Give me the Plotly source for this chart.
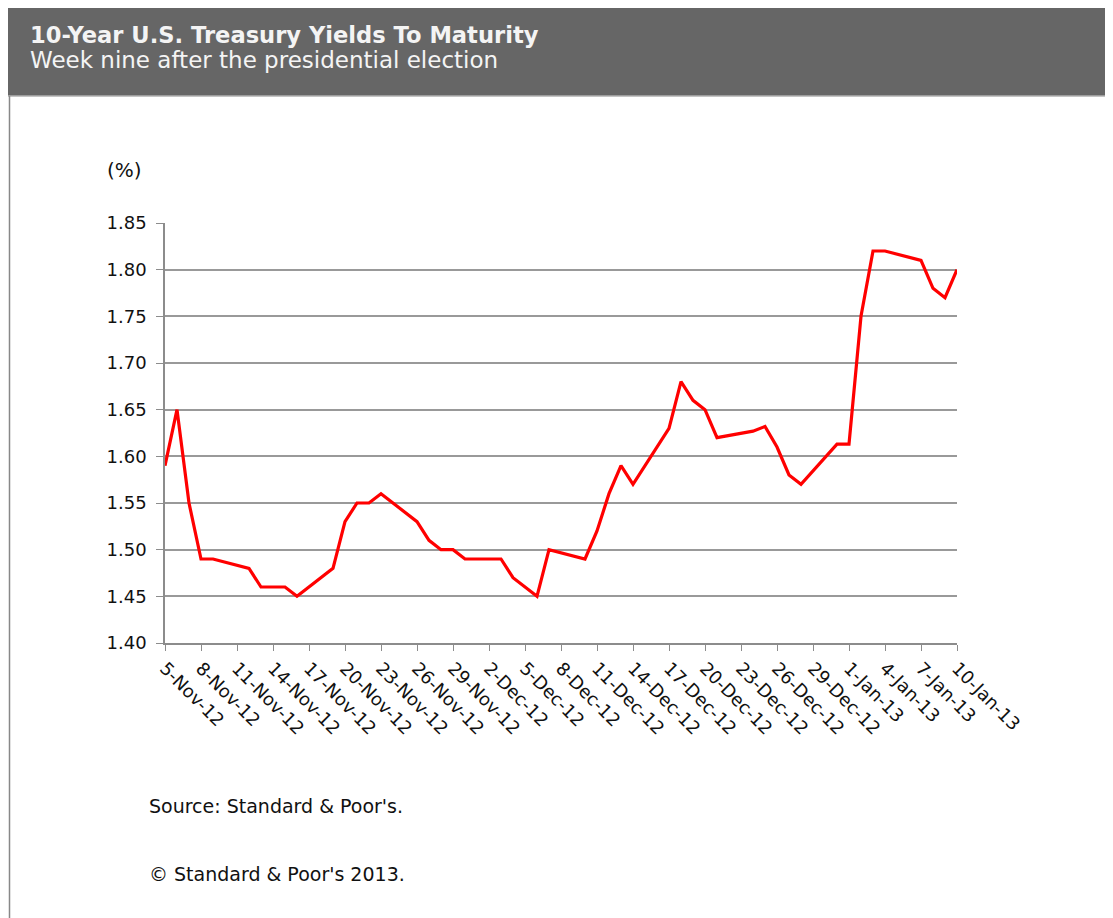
import plotly.graph_objects as go

# 10-year treasury yields, trading days after the 2012 election
dates = [
    "2012-11-05", "2012-11-06", "2012-11-07", "2012-11-08", "2012-11-09",
    "2012-11-12", "2012-11-13", "2012-11-14", "2012-11-15", "2012-11-16",
    "2012-11-19", "2012-11-20", "2012-11-21", "2012-11-22", "2012-11-23",
    "2012-11-26", "2012-11-27", "2012-11-28", "2012-11-29", "2012-11-30",
    "2012-12-03", "2012-12-04", "2012-12-05", "2012-12-06", "2012-12-07",
    "2012-12-10", "2012-12-11", "2012-12-12", "2012-12-13", "2012-12-14",
    "2012-12-17", "2012-12-18", "2012-12-19", "2012-12-20", "2012-12-21",
    "2012-12-24", "2012-12-25", "2012-12-26", "2012-12-27", "2012-12-28",
    "2012-12-31", "2013-01-01", "2013-01-02", "2013-01-03", "2013-01-04",
    "2013-01-07", "2013-01-08", "2013-01-09", "2013-01-10",
]
yields = [
    1.59, 1.65, 1.55, 1.49, 1.49,
    1.48, 1.46, 1.46, 1.46, 1.45,
    1.48, 1.53, 1.55, 1.55, 1.56,
    1.53, 1.51, 1.50, 1.50, 1.49,
    1.49, 1.47, 1.46, 1.45, 1.50,
    1.49, 1.52, 1.56, 1.59, 1.57,
    1.63, 1.68, 1.66, 1.65, 1.62,
    1.627, 1.632, 1.61, 1.58, 1.57,
    1.613, 1.613, 1.75, 1.82, 1.82,
    1.81, 1.78, 1.77, 1.80,
]

title = "10-Year U.S. Treasury Yields To Maturity"
subtitle = "Week nine after the presidential election"
notes = ["Source: Standard & Poor's.", "© Standard & Poor's 2013."]

# figure sits inside the page's 8px body margin
W, H = 1105, 910
L, R, T, B = 157, 949, 215, 635
FONT = "'DejaVu Sans', Arial, sans-serif"


def px(x):
    return (x - L) / (R - L)


def py(y):
    return (B - y) / (B - T)


fig = go.Figure()
fig.add_trace(go.Scatter(
    x=dates, y=yields, mode="lines",
    line=dict(color="#ff0000", width=3.2),
    hoverinfo="skip",
))

grey = "#8c8c8c"
fig.update_xaxes(
    type="date",
    range=["2012-11-05", "2013-01-10"],
    tick0="2012-11-05", dtick=3 * 86400000,
    tickformat="%-d-%b-%y", tickangle=45,
    ticks="outside", ticklen=6, tickcolor=grey,
    showline=True, linecolor=grey, linewidth=1.5,
    showgrid=False, zeroline=False,
    tickfont=dict(family=FONT, size=18, color="#111"),
)
fig.update_yaxes(
    range=[1.40, 1.85], dtick=0.05, tickformat=".2f",
    ticks="outside", ticklen=7, tickcolor=grey,
    ticklabelstandoff=6,
    showline=True, linecolor=grey, linewidth=1.5,
    showgrid=True, gridcolor="#999999", gridwidth=1.5,
    zeroline=False,
    tickfont=dict(family=FONT, size=18, color="#111"),
)

shapes = [
    # header band
    dict(type="rect", xref="paper", yref="paper",
         x0=px(0), x1=px(1120), y0=py(88), y1=py(0),
         fillcolor="#666666", line=dict(width=0), layer="below"),
    dict(type="line", xref="paper", yref="paper",
         x0=px(0), x1=px(1120), y0=py(88), y1=py(88),
         line=dict(color="#b0b0b0", width=1.5)),
    # left border of panel
    dict(type="line", xref="paper", yref="paper",
         x0=px(1.5), x1=px(1.5), y0=py(88), y1=py(920),
         line=dict(color="#888888", width=1.5)),
]

annotations = [
    dict(text="<b>" + title + "</b>", x=px(20), y=py(27), xref="paper", yref="paper",
         xanchor="left", yanchor="middle", showarrow=False,
         font=dict(family=FONT, size=22.6, color="#f4f4f4")),
    dict(text=subtitle, x=px(20), y=py(52), xref="paper", yref="paper",
         xanchor="left", yanchor="middle", showarrow=False,
         font=dict(family=FONT, size=23, color="#f4f4f4")),
    dict(text="(%)", x=px(97), y=py(162), xref="paper", yref="paper",
         xanchor="left", yanchor="middle", showarrow=False,
         font=dict(family=FONT, size=20, color="#111")),
    dict(text=notes[0], x=px(139), y=py(798), xref="paper", yref="paper",
         xanchor="left", yanchor="middle", showarrow=False,
         font=dict(family=FONT, size=19, color="#111")),
    dict(text=notes[1], x=px(139), y=py(866), xref="paper", yref="paper",
         xanchor="left", yanchor="middle", showarrow=False,
         font=dict(family=FONT, size=19, color="#111")),
]

fig.update_layout(
    width=W, height=H,
    margin=dict(l=L, r=W - R, t=T, b=H - B, pad=0),
    paper_bgcolor="white", plot_bgcolor="white",
    showlegend=False,
    shapes=shapes, annotations=annotations,
    font=dict(family=FONT),
)

fig.write_html("out.html", config={"displayModeBar": False})
